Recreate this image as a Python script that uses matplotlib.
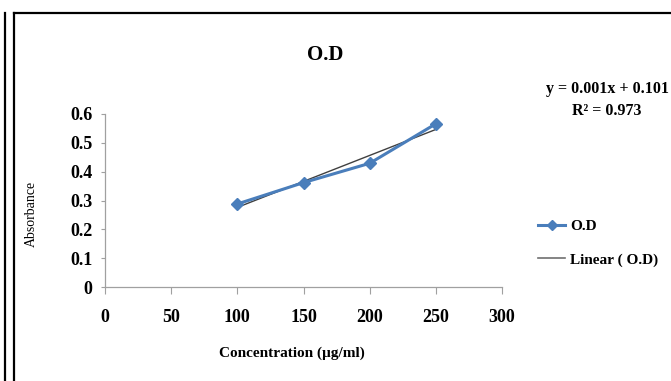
import numpy as np
import matplotlib
matplotlib.use("Agg")
import matplotlib.pyplot as plt
from matplotlib.lines import Line2D

conc = [100, 150, 200, 250]
od = [0.288, 0.362, 0.429, 0.566]
xticks = [0, 50, 100, 150, 200, 250, 300]
yticks = [0, 0.1, 0.2, 0.3, 0.4, 0.5, 0.6]
title = "O.D"
xlabel = "Concentration (µg/ml)"
ylabel = "Absorbance"
eq_text = "y = 0.001x + 0.101\nR² = 0.973"

W, H = 671, 381
fig = plt.figure(figsize=(W / 100, H / 100), dpi=100)
plt.rcParams['font.family'] = ['Liberation Serif', 'DejaVu Serif']

# border lines
fig.add_artist(Line2D([5 / W, 5 / W], [0, 1 - 13 / H], transform=fig.transFigure, color='black', lw=1.6))
fig.add_artist(Line2D([14 / W, 14 / W], [0, 1 - 13 / H], transform=fig.transFigure, color='black', lw=1.6))
fig.add_artist(Line2D([14 / W, 1], [1 - 13 / H, 1 - 13 / H], transform=fig.transFigure, color='black', lw=1.6))

ax = fig.add_axes([105 / W, (H - 287) / H, (502 - 105) / W, (287 - 114) / H])
ax.set_xlim(0, 300)
ax.set_ylim(0, 0.6)

slope, intercept = np.polyfit(conc, od, 1)
fx = np.array([conc[0], conc[-1]])
ax.plot(fx, slope * fx + intercept, color='#404040', lw=1.0, zorder=2)
ax.plot(conc, od, color='#4a7ebb', lw=2.2, marker='D', markersize=6,
        markerfacecolor='#4a7ebb', markeredgecolor='#4a7ebb', zorder=3)

for s in ['top', 'right']:
    ax.spines[s].set_visible(False)
for s in ['left', 'bottom']:
    ax.spines[s].set_color('#a0a0a0')
    ax.spines[s].set_linewidth(0.9)

ax.set_xticks(xticks)
ax.set_yticks(yticks)
ax.set_xticklabels([str(v) for v in xticks], fontsize=13, fontweight='bold')
ax.set_yticklabels(['0' if v == 0 else f"{v:.1f}" for v in yticks], fontsize=13, fontweight='bold')
ax.tick_params(axis='x', direction='out', length=5, color='#a0a0a0', pad=11)
ax.tick_params(axis='y', direction='out', length=3, color='#a0a0a0', pad=6)

ax.set_xlabel(xlabel, fontsize=11, fontweight='bold')
ax.xaxis.set_label_coords((292 - 105) / (502 - 105), -(353 - 287) / (287 - 114))
ax.xaxis.label.set_va('center')
ax.set_ylabel(ylabel, fontsize=10)
ax.yaxis.set_label_coords(-(105 - 31) / (502 - 105), (287 - 214) / (287 - 114))
ax.yaxis.label.set_va('center')

fig.text(325 / W, 1 - 55 / H, title, ha='center', va='center', fontsize=15, fontweight='bold')
fig.text(607 / W, 1 - 100 / H, eq_text, ha='center', va='center', fontsize=11.5,
         fontweight='bold', linespacing=1.45)

handles = [Line2D([], [], color='#4a7ebb', lw=2.2, marker='D', markersize=5),
           Line2D([], [], color='#707070', lw=1.2)]
leg = fig.legend(handles, ['O.D', 'Linear ( O.D)'], loc='center left',
                 bbox_to_anchor=(524 / W, 1 - 243 / H), frameon=False,
                 prop={'weight': 'bold', 'size': 11}, handlelength=1.8,
                 handletextpad=0.3, labelspacing=1.3)

fig.savefig("out.png", dpi=100)
